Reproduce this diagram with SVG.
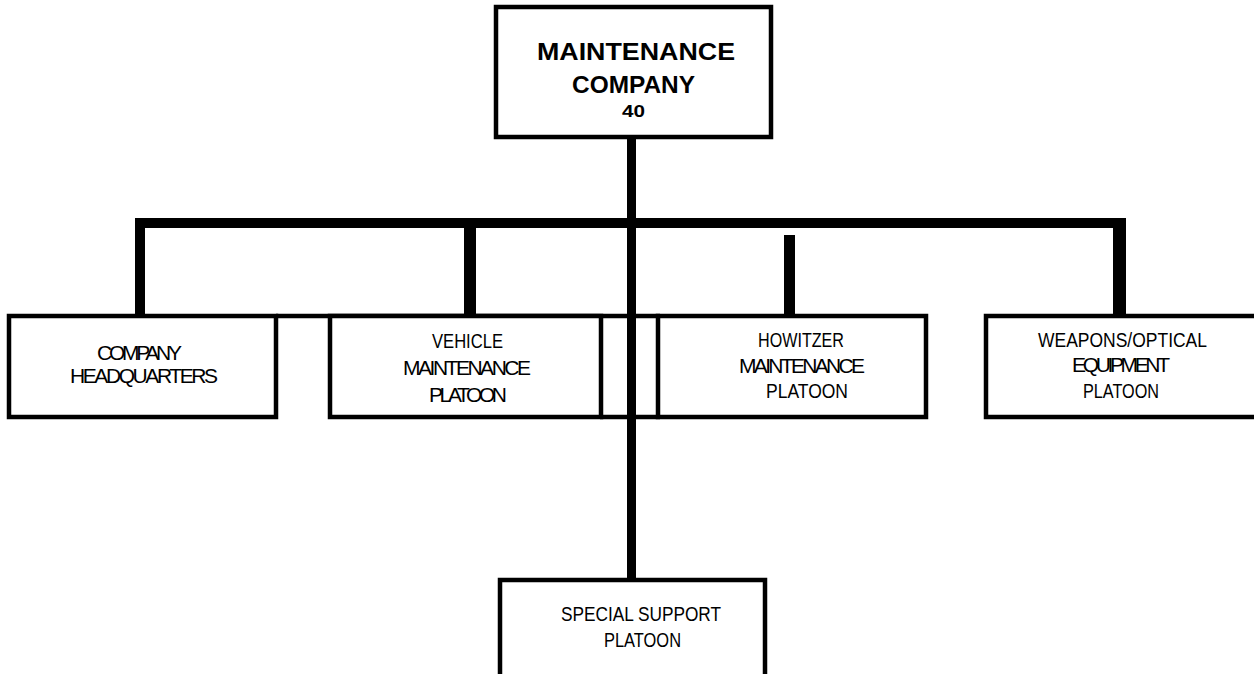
<svg xmlns="http://www.w3.org/2000/svg" width="1254" height="674" viewBox="0 0 1254 674">
<style>
  .box { fill: #fff; stroke: #000; stroke-width: 4.5; }
  .line { fill: #000; }
  text { font-family: "Liberation Sans", Arial, sans-serif; fill: #000; text-anchor: middle; }
  .title { font-weight: bold; font-size: 24px; }
  .num { font-weight: bold; font-size: 17px; }
  .sq { font-size: 21px; }
  .cd { font-size: 21px; }
</style>
<rect x="0" y="0" width="1254" height="674" fill="#fff"/>
<g id="connectors">
  <rect class="line" x="627" y="138" width="9" height="444"/>
  <rect class="line" x="135" y="218" width="991" height="10"/>
  <rect class="line" x="135" y="218" width="10" height="98"/>
  <rect class="line" x="464" y="226" width="12" height="90"/>
  <rect class="line" x="1113" y="226" width="13" height="92"/>
  <rect class="line" x="784" y="235" width="11" height="83"/>
</g>
<g id="node-top">
  <rect class="box" x="496" y="7" width="275" height="130"/>
  <text class="title" x="636" y="60" textLength="198" lengthAdjust="spacingAndGlyphs">MAINTENANCE</text>
  <text class="title" x="633.5" y="93" textLength="123" lengthAdjust="spacingAndGlyphs">COMPANY</text>
  <text class="num" x="633.5" y="117" textLength="23" lengthAdjust="spacingAndGlyphs">40</text>
</g>
<g id="node-strip">
  <path d="M276 316 H660 M600 417 H660" fill="none" stroke="#000" stroke-width="4.5"/>
</g>
<g id="node-hq">
  <rect class="box" x="9" y="316" width="267" height="101"/>
  <text class="sq" x="139.5" y="360" textLength="85">COMPANY</text>
  <text class="sq" x="144" y="383" textLength="148">HEADQUARTERS</text>
</g>
<g id="node-vehicle">
  <rect class="box" x="330" y="316" width="271" height="101"/>
  <text class="cd" x="467.5" y="348" textLength="71" lengthAdjust="spacingAndGlyphs">VEHICLE</text>
  <text class="sq" x="467" y="375" textLength="128">MAINTENANCE</text>
  <text class="sq" x="468" y="402" textLength="78">PLATOON</text>
</g>
<g id="node-howitzer">
  <rect class="box" x="658" y="316" width="268" height="101"/>
  <text class="cd" x="801" y="347" textLength="86" lengthAdjust="spacingAndGlyphs">HOWITZER</text>
  <text class="sq" x="802" y="373" textLength="126">MAINTENANCE</text>
  <text class="cd" x="807" y="398" textLength="82" lengthAdjust="spacingAndGlyphs">PLATOON</text>
</g>
<g id="node-stem-overlay">
  <rect class="line" x="627" y="310" width="9" height="112"/>
</g>
<g id="node-weapons">
  <rect class="box" x="986" y="316" width="272" height="101"/>
  <text class="cd" x="1122.5" y="347" textLength="169" lengthAdjust="spacingAndGlyphs">WEAPONS/OPTICAL</text>
  <text class="sq" x="1121" y="372" textLength="98">EQUIPMENT</text>
  <text class="cd" x="1121" y="398" textLength="76" lengthAdjust="spacingAndGlyphs">PLATOON</text>
</g>
<g id="node-special">
  <rect class="box" x="500" y="580" width="265" height="98"/>
  <text class="cd" x="641" y="621" textLength="160" lengthAdjust="spacingAndGlyphs">SPECIAL SUPPORT</text>
  <text class="cd" x="642.5" y="647" textLength="77" lengthAdjust="spacingAndGlyphs">PLATOON</text>
</g>
</svg>
